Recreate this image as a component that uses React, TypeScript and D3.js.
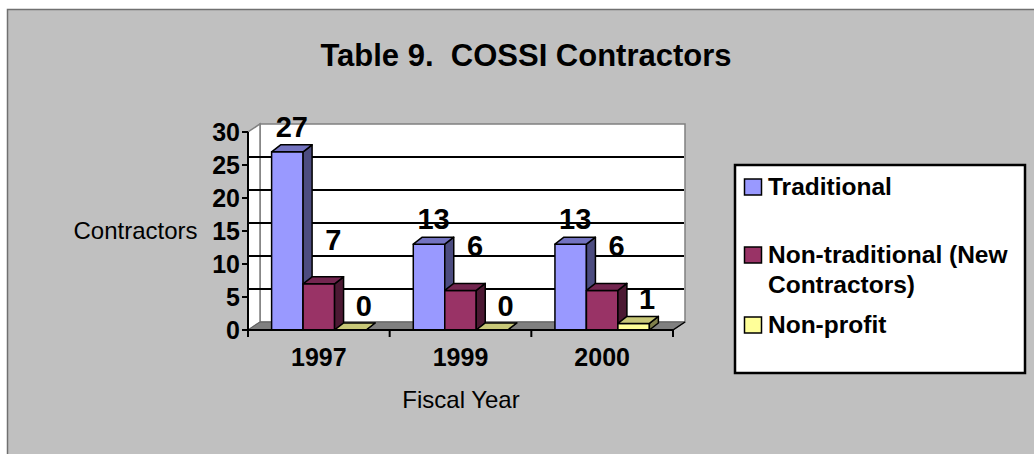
import * as d3 from "d3";

const categories = ["1997", "1999", "2000"];
const seriesKeys = ["traditional", "nonTraditional", "nonProfit"];
const traditional = [27, 13, 13];
const nonTraditional = [7, 6, 6];
const nonProfit = [0, 0, 1];
const yTickValues = [0, 5, 10, 15, 20, 25, 30];
const legendLabels = [["Traditional"], ["Non-traditional (New", "Contractors)"], ["Non-profit"]];

const FONT = "'Liberation Sans', Arial, Helvetica, sans-serif";
const W = 1034;
const H = 454;

// 3D offsets: wall depth and bar depth
const DX = 12;
const DY = -8;
const BDX = 9;
const BDY = -7;

const FILLS = [
  { front: "#9999FF", side: "#4C4C80", top: "#7373C0" },
  { front: "#993366", side: "#4C1933", top: "#732650" },
  { front: "#FFFF99", side: "#80804C", top: "#C8C878" },
];
// per-series label nudge (x shift, gap above bar top)
const LABEL_NUDGE = [
  { dx: 0, gap: 8 },
  { dx: 10, gap: 27 },
  { dx: 9, gap: 7 },
];

const pts = (p: [number, number][]) => p.map((d) => d.join(",")).join(" ");

export default function App() {
  const values = [traditional, nonTraditional, nonProfit];
  const x = d3.scaleBand<string>().domain(categories).range([248, 673]);
  const inner = d3
    .scaleBand<string>()
    .domain(seriesKeys)
    .range([0, x.bandwidth()])
    .paddingInner(0)
    .paddingOuter(0.75);
  const y = d3.scaleLinear().domain([0, 30]).range([330, 132]);

  const x0 = x.range()[0];
  const x1 = x.range()[1];
  const yb = y(0);
  const yt = y(30);
  const bw = inner.bandwidth();

  const bars: JSX.Element[] = [];
  const labels: JSX.Element[] = [];
  categories.forEach((cat, ci) => {
    seriesKeys.forEach((key, si) => {
      const v = values[si][ci];
      const bx = (x(cat) ?? 0) + (inner(key) ?? 0);
      const top = y(v);
      const f = FILLS[si];
      bars.push(
        <g key={`${cat}-${key}`} stroke="#000" strokeWidth={1.5} strokeLinejoin="round">
          <rect x={bx} y={top} width={bw} height={yb - top} fill={f.front} />
          <polygon
            points={pts([
              [bx + bw, yb],
              [bx + bw, top],
              [bx + bw + BDX, top + BDY],
              [bx + bw + BDX, yb + BDY],
            ])}
            fill={f.side}
          />
          <polygon
            points={pts([
              [bx, top],
              [bx + bw, top],
              [bx + bw + BDX, top + BDY],
              [bx + BDX, top + BDY],
            ])}
            fill={f.top}
          />
        </g>
      );
      const n = LABEL_NUDGE[si];
      labels.push(
        <text
          key={`l-${cat}-${key}`}
          x={bx + bw / 2 + BDX / 2 + n.dx}
          y={top + BDY - n.gap}
          textAnchor="middle"
          fontFamily={FONT}
          fontWeight="bold"
          fontSize={29}
          fill="#000"
        >
          {v}
        </text>
      );
    });
  });

  return (
    <svg
      width={W}
      height={H}
      style={{ position: "absolute", left: 0, top: 0, display: "block" }}
    >
      <rect x={0} y={0} width={W} height={H} fill="#fff" />
      <rect x={7.5} y={9.5} width={W + 20} height={H + 20} fill="#C0C0C0" stroke="#707070" strokeWidth={1.5} />

      <text
        x={526}
        y={66}
        textAnchor="middle"
        fontFamily={FONT}
        fontWeight="bold"
        fontSize={31}
        style={{ whiteSpace: "pre" }}
      >
        {"Table 9.  COSSI Contractors"}
      </text>

      {/* walls */}
      <polygon
        points={pts([
          [x0 + DX, yb + DY],
          [x1 + DX, yb + DY],
          [x1 + DX, yt + DY],
          [x0 + DX, yt + DY],
        ])}
        fill="#fff"
        stroke="#808080"
        strokeWidth={1.5}
      />
      <polygon
        points={pts([
          [x0, yb],
          [x0, yt],
          [x0 + DX, yt + DY],
          [x0 + DX, yb + DY],
        ])}
        fill="#fff"
        stroke="#808080"
        strokeWidth={1.5}
      />
      {yTickValues
        .filter((t) => t > 0 && t < 30)
        .map((t) => (
          <line
            key={`g${t}`}
            x1={x0}
            x2={x1 + DX - 1}
            y1={y(t) + DY}
            y2={y(t) + DY}
            stroke="#000"
            strokeWidth={2}
          />
        ))}
      {/* floor */}
      <polygon
        points={pts([
          [x0, yb],
          [x1, yb],
          [x1 + DX, yb + DY],
          [x0 + DX, yb + DY],
        ])}
        fill="#808080"
        stroke="#606060"
        strokeWidth={1}
      />
      <line x1={x1} y1={yb} x2={x1 + DX} y2={yb + DY} stroke="#000" strokeWidth={1.5} />

      {bars}

      {/* axes */}
      <line x1={x0} x2={x0} y1={yt} y2={yb + 1} stroke="#000" strokeWidth={2} />
      <line x1={x0 - 1} x2={x1} y1={yb} y2={yb} stroke="#000" strokeWidth={2} />
      {yTickValues.map((t) => (
        <g key={`t${t}`}>
          <line x1={x0 - 6} x2={x0} y1={y(t)} y2={y(t)} stroke="#000" strokeWidth={2} />
          <text
            x={240}
            y={y(t)}
            dy="0.36em"
            textAnchor="end"
            fontFamily={FONT}
            fontWeight="bold"
            fontSize={25}
          >
            {t}
          </text>
        </g>
      ))}
      {[...categories.map((c) => x(c) ?? 0), x1].map((px, i) => (
        <line key={`xt${i}`} x1={px} x2={px} y1={yb} y2={yb + 7} stroke="#000" strokeWidth={2} />
      ))}
      {categories.map((c) => (
        <text
          key={`c${c}`}
          x={(x(c) ?? 0) + x.bandwidth() / 2}
          y={366}
          textAnchor="middle"
          fontFamily={FONT}
          fontWeight="bold"
          fontSize={25}
        >
          {c}
        </text>
      ))}

      {labels}

      <text x={135.5} y={239} textAnchor="middle" fontFamily={FONT} fontSize={24}>
        Contractors
      </text>
      <text x={461} y={408} textAnchor="middle" fontFamily={FONT} fontSize={24}>
        Fiscal Year
      </text>

      {/* legend */}
      <rect x={735} y={165} width={290} height={208} fill="#fff" stroke="#000" strokeWidth={2.5} />
      {legendLabels.map((lines, i) => {
        const base = [195, 263, 333][i];
        return (
          <g key={`lg${i}`}>
            <rect
              x={744.5}
              y={base - 16}
              width={17}
              height={16}
              fill={FILLS[i].front}
              stroke="#000"
              strokeWidth={1.5}
            />
            {lines.map((ln, li) => (
              <text
                key={li}
                x={768}
                y={base + li * 30}
                fontFamily={FONT}
                fontWeight="bold"
                fontSize={24.5}
              >
                {ln}
              </text>
            ))}
          </g>
        );
      })}
    </svg>
  );
}
